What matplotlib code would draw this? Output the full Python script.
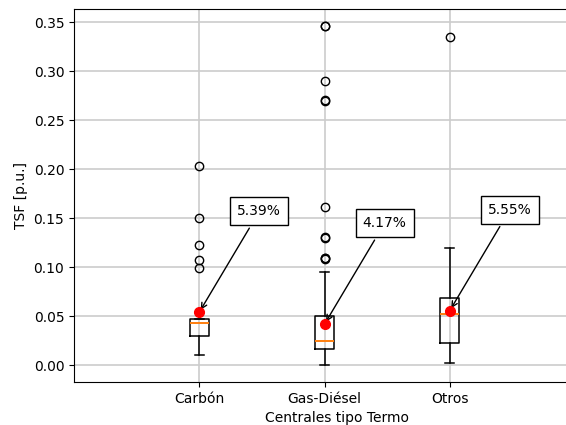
import matplotlib
matplotlib.use("Agg")
import matplotlib.pyplot as plt

# categorias y estadisticas de cada caja
centrales = ["Carbón", "Gas-Diésel", "Otros"]
q1 = [0.030, 0.016, 0.023]
mediana = [0.043, 0.025, 0.052]
q3 = [0.0466, 0.050, 0.068]
bigote_inf = [0.0105, 0.000, 0.0024]
bigote_sup = [0.0466, 0.095, 0.119]
atipicos = [
    [0.203, 0.150, 0.122, 0.107, 0.099],
    [0.346, 0.3455, 0.290, 0.270, 0.2693, 0.161, 0.1305, 0.1298,
     0.1095, 0.1088, 0.1083],
    [0.335],
]
media = [0.0539, 0.0417, 0.0555]

stats = []
for i in range(len(centrales)):
    stats.append(dict(q1=q1[i], med=mediana[i], q3=q3[i],
                      whislo=bigote_inf[i], whishi=bigote_sup[i],
                      fliers=atipicos[i]))

fig = plt.figure(figsize=(5.66, 4.25), dpi=100)
# el eje derecho queda fuera de la imagen, como en el original
ax = fig.add_axes([74 / 566, 43 / 425, 526 / 566, 373 / 425])

pos = [1, 2, 3]
ax.bxp(stats, positions=pos, widths=0.15,
       boxprops=dict(linewidth=1.1), whiskerprops=dict(linewidth=1.1),
       capprops=dict(linewidth=1.1),
       medianprops=dict(color='#ff7f0e', linewidth=1.4))
ax.plot(pos, media, 'o', color='red', markersize=7, zorder=5)

for i in range(len(centrales)):
    ax.annotate('%.2f%%' % (media[i] * 100),
                xy=(pos[i], media[i]),
                xytext=(pos[i] + 0.48, media[i] + 0.103),
                ha='center', va='center', fontsize=10,
                bbox=dict(boxstyle='square,pad=0.5', fc='white', ec='black'),
                arrowprops=dict(arrowstyle='->', color='black'))

ax.set_xlim(0, 526 / 125.25)
ax.set_ylim(-0.0173, 0.3633)
ax.set_xticks(pos)
ax.set_xticklabels(centrales)
ax.grid(True, color='#cccccc', linewidth=1.2)
ax.set_axisbelow(True)
ax.spines['right'].set_visible(False)
ax.set_xlabel("Centrales tipo Termo")
ax.set_ylabel("TSF [p.u.]")

fig.savefig("out.png", dpi=100)
